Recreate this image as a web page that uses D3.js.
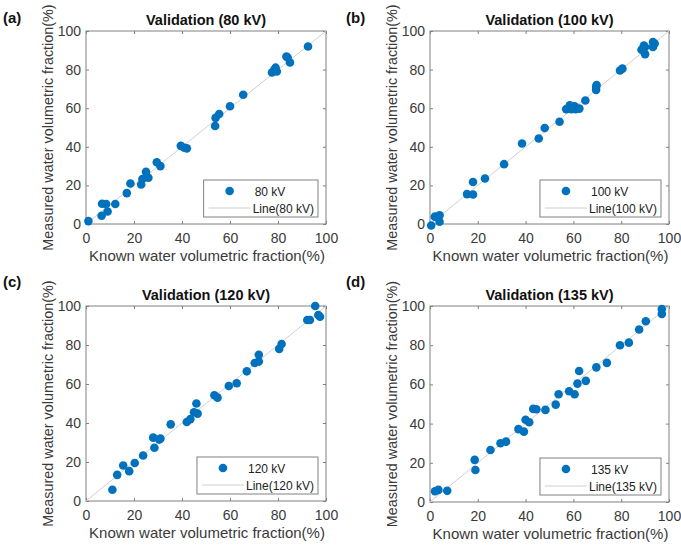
<!DOCTYPE html>
<html>
<head>
<meta charset="utf-8">
<script src="https://cdn.jsdelivr.net/npm/d3@7"></script>
<style>
  body { margin: 0; background: #fff; }
  svg { display: block; font-family: Arial, "Liberation Sans", sans-serif; }
</style>
</head>
<body>
<svg id="chart" width="681" height="545"></svg>
<script>
// measured vs known water fraction
const ticks = [0, 20, 40, 60, 80, 100];

const knownA = [1, 6.5, 6.7, 8.4, 9, 12.2, 17, 18.5, 23, 23.5, 25, 26, 29.5, 31, 39.5, 41, 42, 53.8, 54, 55.5, 60, 65.5, 77.5, 78.5, 79.5, 79, 83.5, 84, 85, 92.5];
const measA = [1.5, 4.3, 10.5, 10.4, 6.5, 10.4, 16, 21, 20.5, 23.3, 27, 24, 32, 30, 40.5, 39.5, 39.2, 50.8, 55, 57, 61, 67, 78.5, 80, 79, 81, 86.8, 86.3, 83.7, 92];

const knownB = [0.5, 2, 3.5, 4, 4, 15.5, 18, 18, 23, 31, 38.5, 45.5, 48, 54.2, 57, 58.5, 59.2, 60.5, 61, 62.5, 65, 69.5, 69.5, 69.7, 79.5, 80.5, 88.5, 89.5, 90, 90, 93.3, 94, 93.3];
const measB = [-0.8, 3.8, 3.8, 1.2, 4.5, 15.5, 15.3, 21.8, 23.6, 31, 41.7, 44.3, 49.7, 53, 59.5, 61.5, 59.5, 61, 59.5, 59.8, 64, 71, 69.5, 72, 79.5, 80.5, 90.3, 92.5, 88, 91.7, 91.7, 93.5, 94.3];

const knownC = [11, 13, 15.5, 18, 20.3, 23.8, 28, 28.5, 30.5, 31, 35.3, 42, 43.5, 45, 46, 46.5, 53.5, 54.8, 59.5, 62.8, 67, 70.3, 72, 72, 80.5, 81.5, 92.2, 93.3, 95.5, 96.8, 97.5];
const measC = [5.8, 13.4, 18.2, 15.3, 19.5, 23.3, 32.5, 27.3, 31.5, 32, 39.3, 40.5, 42, 45.5, 50, 44.8, 54.2, 53, 59, 60.4, 66.5, 70.8, 71.5, 75, 78, 80.5, 92.8, 92.8, 100, 95.4, 94.5];

const knownD = [2.1, 3.5, 7.2, 18.7, 19, 25.3, 29.5, 31.8, 37, 39.3, 40, 41.5, 43.2, 44.5, 48.3, 52.6, 53.8, 58.2, 60.5, 61.7, 62.4, 65.2, 69.6, 74, 79.5, 83.2, 87.5, 90.3, 97, 97];
const measD = [5.5, 6.2, 5.7, 21.5, 16.3, 26.5, 30, 30.8, 37.2, 35.9, 42, 40.7, 47.5, 47.3, 47, 49.7, 55, 56.5, 55, 60.4, 66.8, 61.8, 68.7, 71, 80, 81.3, 88, 92.2, 96, 98.5];

const panels = [
  { tag: '(a)', kv: '80 kV', known: knownA, meas: measA, box: [86, 31, 326, 224], tagX: 3, tagY: 23 },
  { tag: '(b)', kv: '100 kV', known: knownB, meas: measB, box: [430, 31, 669, 224], tagX: 346, tagY: 23 },
  { tag: '(c)', kv: '120 kV', known: knownC, meas: measC, box: [86, 306, 326, 501], tagX: 3, tagY: 287 },
  { tag: '(d)', kv: '135 kV', known: knownD, meas: measD, box: [430, 306, 669, 502], tagX: 346, tagY: 287 }
];

const blue = '#0072BD';
const axisCol = '#808080';
const textCol = '#3a3a3a';
const svg = d3.select('#chart');

panels.forEach(p => {
  const [x0, y0, x1, y1] = p.box;
  const x = d3.scaleLinear().domain([0, 100]).range([x0, x1]);
  const y = d3.scaleLinear().domain([0, 100]).range([y1, y0]);
  const g = svg.append('g');

  // axes with inward ticks on all four sides
  const styleAxis = sel => {
    sel.select('.domain').remove();
    sel.selectAll('line').attr('stroke', axisCol);
    sel.selectAll('text').attr('fill', textCol).attr('font-size', 14);
  };
  g.append('g').attr('transform', `translate(0,${y1})`)
    .call(d3.axisBottom(x).tickValues(ticks).tickSizeInner(-3).tickSizeOuter(0).tickPadding(9))
    .call(styleAxis);
  g.append('g').attr('transform', `translate(${x0},0)`)
    .call(d3.axisLeft(y).tickValues(ticks).tickSizeInner(-3).tickSizeOuter(0).tickPadding(5))
    .call(styleAxis);
  g.append('g').attr('transform', `translate(0,${y0})`)
    .call(d3.axisTop(x).tickValues(ticks).tickSizeInner(-3).tickSizeOuter(0).tickFormat(''))
    .call(styleAxis);
  g.append('g').attr('transform', `translate(${x1},0)`)
    .call(d3.axisRight(y).tickValues(ticks).tickSizeInner(-3).tickSizeOuter(0).tickFormat(''))
    .call(styleAxis);

  g.append('rect')
    .attr('x', x0).attr('y', y0)
    .attr('width', x1 - x0).attr('height', y1 - y0)
    .attr('fill', 'none').attr('stroke', axisCol);

  // 1:1 line
  g.append('line')
    .attr('x1', x(0)).attr('y1', y(0)).attr('x2', x(100)).attr('y2', y(100))
    .attr('stroke', '#d0d0d0').attr('stroke-width', 1);

  g.selectAll('circle.pt')
    .data(d3.zip(p.known, p.meas))
    .join('circle')
    .attr('class', 'pt')
    .attr('cx', d => x(d[0]))
    .attr('cy', d => y(d[1]))
    .attr('r', 4.3)
    .attr('fill', blue);

  g.append('text')
    .attr('x', (x0 + x1) / 2).attr('y', y0 - 6)
    .attr('text-anchor', 'middle')
    .attr('font-size', 14.5).attr('font-weight', 'bold').attr('fill', '#111')
    .text(`Validation (${p.kv})`);

  g.append('text')
    .attr('x', (x0 + x1) / 2 + 1).attr('y', y1 + 37)
    .attr('text-anchor', 'middle')
    .attr('font-size', 15).attr('fill', textCol)
    .text('Known water volumetric fraction(%)');

  g.append('text')
    .attr('transform', `translate(${x0 - 33},${(y0 + y1) / 2}) rotate(-90)`)
    .attr('text-anchor', 'middle')
    .attr('font-size', 14.4).attr('fill', textCol)
    .text('Measured water volumetric fraction(%)');

  svg.append('text')
    .attr('x', p.tagX).attr('y', p.tagY)
    .attr('font-size', 15).attr('font-weight', 'bold').attr('fill', '#111')
    .text(p.tag);

  // legend
  const lg = g.append('g');
  const box = lg.append('rect').attr('fill', '#fff').attr('stroke', axisCol);
  const t1 = lg.append('text').attr('font-size', 12).attr('fill', '#222').text(p.kv);
  const t2 = lg.append('text').attr('font-size', 12).attr('fill', '#222').text(`Line(${p.kv})`);
  const w = 49 + Math.max(t1.node().getComputedTextLength(), t2.node().getComputedTextLength()) + 4;
  const h = 37;
  const lx = x1 - 8 - w;
  const ly = y1 - 7 - h;
  box.attr('x', lx).attr('y', ly).attr('width', w).attr('height', h);
  lg.append('circle').attr('cx', lx + 26).attr('cy', ly + 11).attr('r', 4.3).attr('fill', blue);
  t1.attr('x', lx + 51).attr('y', ly + 15.5);
  lg.append('line')
    .attr('x1', lx + 5).attr('x2', lx + 47).attr('y1', ly + 28).attr('y2', ly + 28)
    .attr('stroke', '#d0d0d0');
  t2.attr('x', lx + 49).attr('y', ly + 32.5);
});
</script>
</body>
</html>
